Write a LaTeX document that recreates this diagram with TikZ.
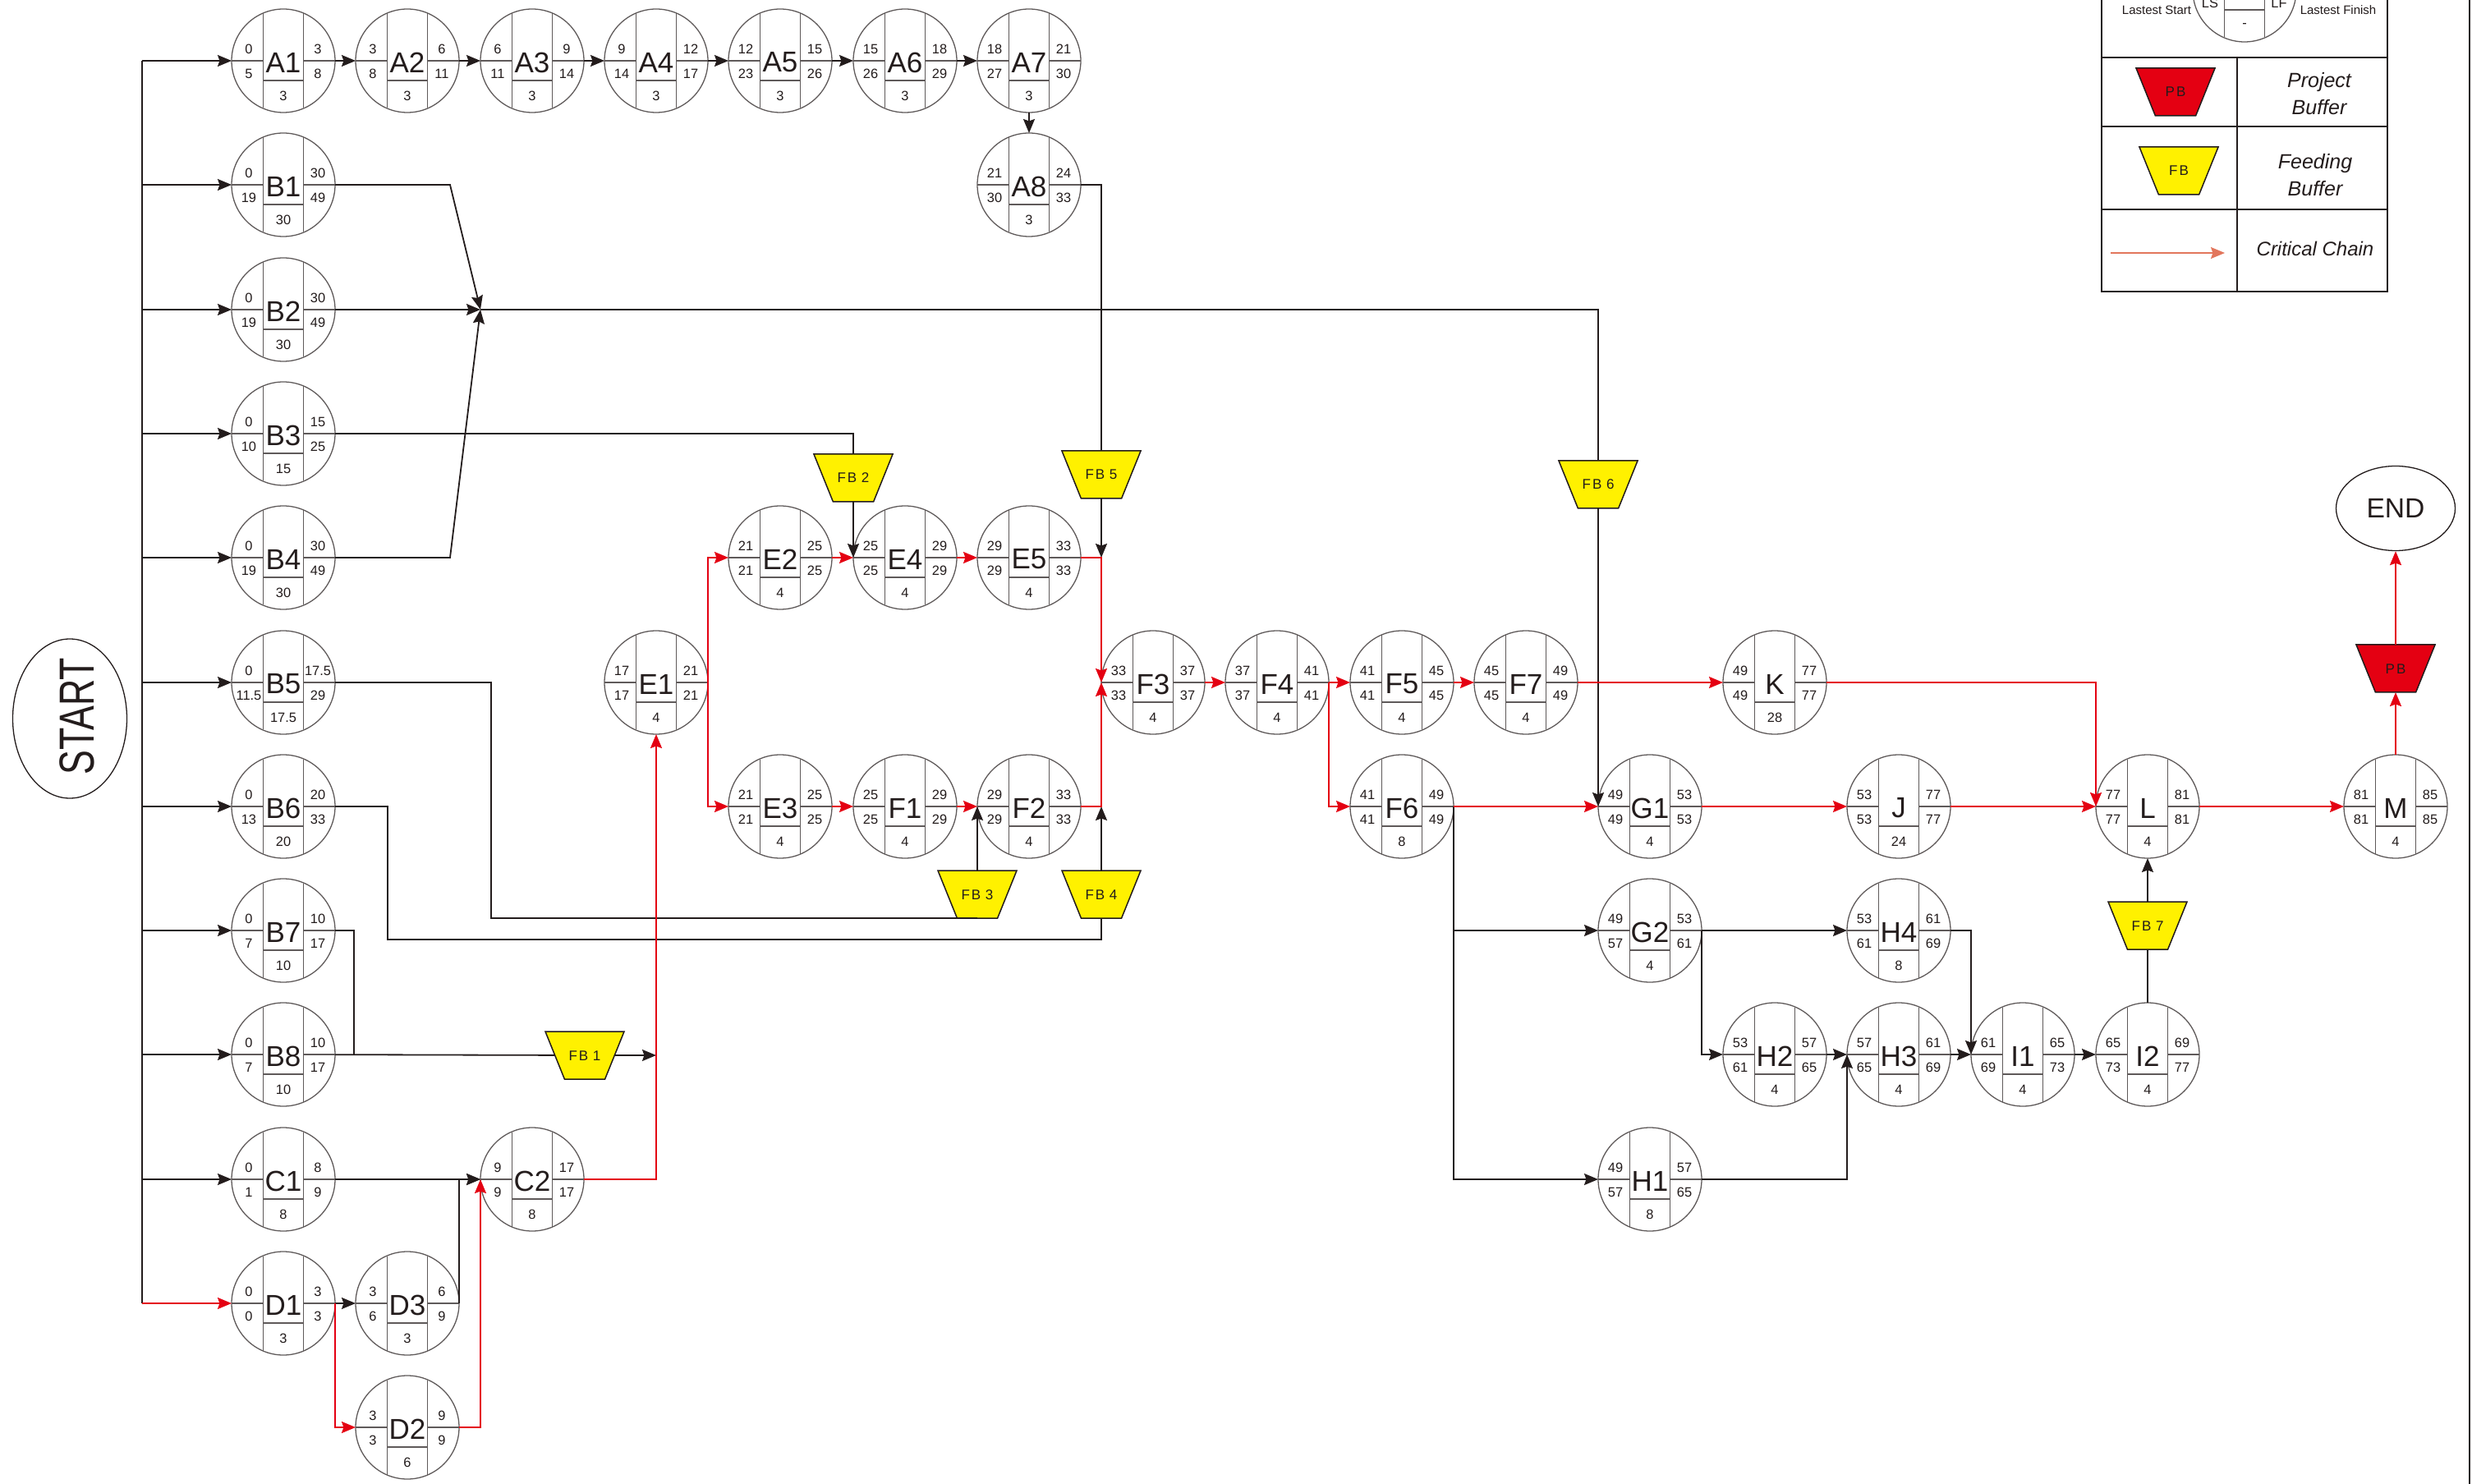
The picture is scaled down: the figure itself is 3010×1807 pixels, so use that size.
\documentclass[tikz,border=0pt]{standalone}
\usepackage{fontspec}
\setmainfont{Liberation Sans}
\newfontfamily\buffont[LetterSpace=12]{Liberation Sans}
\usetikzlibrary{arrows.meta,shapes.geometric,calc}

\definecolor{critred}{RGB}{228,0,18}
\definecolor{bufyellow}{RGB}{255,241,0}
\definecolor{ringgray}{RGB}{95,90,90}
\definecolor{linedark}{RGB}{35,28,28}
\definecolor{legsalmon}{RGB}{226,118,92}

\tikzset{
  act/.style={circle, draw=ringgray, line width=0.65pt, minimum size=63pt, inner sep=0pt, outer sep=0pt},
  actline/.style={draw=ringgray, line width=0.65pt},
  actname/.style={font=\fontsize{17.5}{18}\selectfont, text=linedark, inner sep=0pt},
  actnum/.style={font=\fontsize{8.2}{9}\selectfont, text=linedark, inner sep=0pt},
  buffer/.style={trapezium, trapezium left angle=68, trapezium right angle=68,
    shape border rotate=180, text width=24.6pt, align=center, text height=6pt, text depth=0pt,
    inner xsep=0pt, inner ysep=11.5pt, outer sep=0pt,
    draw=linedark, line width=0.75pt, text=linedark, font=\buffont\fontsize{8.5}{9}\selectfont},
  feed/.style={buffer, fill=bufyellow},
  proj/.style={buffer, fill=critred},
  link/.style={draw=linedark, line width=0.9pt},
  arr/.style={link, -{Stealth[length=8.5pt,width=7pt,inset=1.2pt]}},
  crit/.style={draw=critred, line width=0.95pt, -{Stealth[length=8.5pt,width=7pt,inset=1.2pt]}},
  legline/.style={draw=linedark, line width=0.85pt},
  legtext/.style={font=\itshape\fontsize{12.5}{16.5}\selectfont, text=linedark, align=center, inner sep=0pt},
}

\begin{document}
\begin{tikzpicture}[x=0.5pt,y=-0.5pt]
\useasboundingbox (0,0) rectangle (3010,1807);

% activities: name/column/row/ES/LS/EF/LF/duration
\foreach \nm/\col/\row/\es/\ls/\ef/\lf/\dur in {
  A1/1/1/0/5/3/8/3, A2/2/1/3/8/6/11/3, A3/3/1/6/11/9/14/3, A4/4/1/9/14/12/17/3,
  A5/5/1/12/23/15/26/3, A6/6/1/15/26/18/29/3, A7/7/1/18/27/21/30/3, A8/7/2/21/30/24/33/3,
  B1/1/2/0/19/30/49/30, B2/1/3/0/19/30/49/30, B3/1/4/0/10/15/25/15, B4/1/5/0/19/30/49/30,
  B5/1/6/0/11.5/17.5/29/17.5, B6/1/7/0/13/20/33/20, B7/1/8/0/7/10/17/10, B8/1/9/0/7/10/17/10,
  C1/1/10/0/1/8/9/8, D1/1/11/0/0/3/3/3, D3/2/11/3/6/6/9/3, D2/2/12/3/3/9/9/6,
  C2/3/10/9/9/17/17/8, E1/4/6/17/17/21/21/4, E2/5/5/21/21/25/25/4, E4/6/5/25/25/29/29/4,
  E5/7/5/29/29/33/33/4, E3/5/7/21/21/25/25/4, F1/6/7/25/25/29/29/4, F2/7/7/29/29/33/33/4,
  F3/8/6/33/33/37/37/4, F4/9/6/37/37/41/41/4, F5/10/6/41/41/45/45/4, F7/11/6/45/45/49/49/4,
  K/13/6/49/49/77/77/28, F6/10/7/41/41/49/49/8, G1/12/7/49/49/53/53/4, J/14/7/53/53/77/77/24,
  L/16/7/77/77/81/81/4, M/18/7/81/81/85/85/4, G2/12/8/49/57/53/61/4, H4/14/8/53/61/61/69/8,
  H2/13/9/53/61/57/65/4, H3/14/9/57/65/61/69/4, I1/15/9/61/69/65/73/4, I2/16/9/65/73/69/77/4,
  H1/12/10/49/57/57/65/8}{
  \node[act] (\nm) at ({round(345+151.3*(\col-1))},{round(74+151.3*(\row-1))}) {};
  \draw[actline] ($(\nm)+(-24.5,-57.5)$) -- ($(\nm)+(-24.5,57.5)$);
  \draw[actline] ($(\nm)+(24.5,-57.5)$) -- ($(\nm)+(24.5,57.5)$);
  \draw[actline] (\nm.west) -- ($(\nm)+(-24.5,0)$);
  \draw[actline] (\nm.east) -- ($(\nm)+(24.5,0)$);
  \draw[actline] ($(\nm)+(-24.5,24)$) -- ($(\nm)+(24.5,24)$);
  \node[actname] (\nm-name) at ($(\nm)+(0,2)$) {\nm};
  \node[actnum] (\nm-es) at ($(\nm)+(-42,-14)$) {\es};
  \node[actnum] (\nm-ls) at ($(\nm)+(-42,16)$) {\ls};
  \node[actnum] (\nm-ef) at ($(\nm)+(42,-14)$) {\ef};
  \node[actnum] (\nm-lf) at ($(\nm)+(42,16)$) {\lf};
  \node[actnum] (\nm-dur) at ($(\nm)+(0,43)$) {\dur};
}

% start and end
\node[draw=linedark, line width=0.65pt, ellipse, minimum width=69.5pt, minimum height=97pt, inner sep=0pt] (START) at (85,875) {};
\node[rotate=90, inner sep=0pt, text=linedark, font=\fontsize{30}{30}\selectfont] (starttext) at (94,872) {\scalebox{0.745}[1]{START}};
\node[draw=linedark, line width=0.65pt, ellipse, minimum width=72.5pt, minimum height=51.5pt, inner sep=0pt,
  text=linedark, font=\fontsize{16.8}{18}\selectfont] (END) at (M |- 0,619) {END};

% buffers
\node[feed] (FB1) at (712,1285) {FB 1};
\node[feed] (FB2) at (E4.west |- 0,582) {FB 2};
\node[feed] (FB3) at (F2.west |- 0,1089) {FB 3};
\node[feed] (FB4) at (F3.west |- 0,1089) {FB 4};
\node[feed] (FB5) at (F3.west |- 0,578) {FB 5};
\node[feed] (FB6) at (G1.west |- 0,590) {FB 6};
\node[feed] (FB7) at (L |- 0,1127) {FB 7};
\node[proj] (PB) at (M |- 0,814) {PB};

% start bus
\coordinate (bustop) at (173,74);
\coordinate (busbot) at (173,1587);
\draw[link] (bustop) -- (busbot);
\foreach \nm in {A1,B1,B2,B3,B4,B5,B6,B7,B8,C1}
  \draw[arr] (bustop |- \nm.west) -- (\nm.west);

% non-critical links
\foreach \a/\b in {A1/A2,A2/A3,A3/A4,A4/A5,A5/A6,A6/A7,A7/A8,D1/D3,C1/C2,G2/H4,H2/H3,H3/I1,I1/I2}
  \draw[arr] (\a) -- (\b);
\draw[link] (A8.east) -| (FB5.north);
\draw[arr] (FB5.south) -- (FB5.south |- E5.east);
\draw[link] (B3.east) -| (FB2.north);
\draw[arr] (FB2.south) -- (E4.west);
\coordinate (merge) at (B2.east -| 585,0);
\draw[arr] (B1.east) -- ++(140,0) -- (merge);
\draw[arr] (B4.east) -- ++(140,0) -- (merge);
\draw[arr] (B2.east) -- (merge);
\draw[link] (merge) -| (FB6.north);
\draw[arr] (FB6.south) -- (G1.west);
\coordinate (b5bend) at (FB3.south -| 598,0);
\draw[link] (B5.east) -| (b5bend) -- (FB3.south);
\draw[arr] (FB3.north) -- (F2.west);
\coordinate (b6bend) at (472,1144);
\draw[link] (B6.east) -| (b6bend) -| (FB4.south);
\draw[arr] (FB4.north) -- (FB4.north |- F2.east);
\coordinate (b7bend) at (B8.east -| 431,0);
\draw[link] (B7.east) -| (b7bend);
\draw[link] (B8) -- (FB1);
\draw[arr] (FB1.east) -- (FB1.east -| E1.south);
\draw[arr] (D3.east) |- (C2.west);
\draw[arr] (F6.east) |- (G2.west);
\draw[arr] (F6.east) |- (H1.west);
\draw[arr] (G2.east) |- (H2.west);
\draw[arr] (H1.east) -| (H3.west);
\draw[arr] (H4.east) -| (I1.west);
\draw[link] (I2.north) -- (FB7.south);
\draw[arr] (FB7.north) -- (L.south);

% critical chain
\draw[crit] (bustop |- D1.west) -- (D1.west);
\draw[crit] (D1.east) |- (D2.west);
\draw[crit] (D2.east) -| (C2.west);
\draw[crit] (C2.east) -| (E1.south);
\draw[crit] (E1.east) |- (E2.west);
\draw[crit] (E1.east) |- (E3.west);
\foreach \a/\b in {E2/E4,E4/E5,E3/F1,F1/F2,F3/F4,F4/F5,F5/F7,F7/K,F6/G1,G1/J,J/L,L/M}
  \draw[crit] (\a) -- (\b);
\draw[crit] (E5.east) -| (F3.west);
\draw[crit] (F2.east) -| (F3.west);
\draw[crit] (F4.east) |- (F6.west);
\draw[crit] (K.east) -| (L.west);
\draw[crit] (M.north) -- (PB.south);
\draw[crit] (PB.north) -- (END.south);

% legend
\draw[legline] (2559,-10) rectangle (2907,355);
\draw[legline] (2559,70) -- (2907,70);
\draw[legline] (2559,154) -- (2907,154);
\draw[legline] (2559,255) -- (2907,255);
\draw[legline] (2724,70) -- (2724,355);
\node[act] (legnode) at (2733,-12) {};
\draw[actline] ($(legnode)+(-24.5,-57.5)$) -- ($(legnode)+(-24.5,57.5)$);
\draw[actline] ($(legnode)+(24.5,-57.5)$) -- ($(legnode)+(24.5,57.5)$);
\draw[actline] ($(legnode)+(-24.5,24)$) -- ($(legnode)+(24.5,24)$);
\node[actnum] (leg-ls) at ($(legnode)+(-42,16)$) {LS};
\node[actnum] (leg-lf) at ($(legnode)+(42,16)$) {LF};
\node[actnum] (leg-dur) at ($(legnode)+(0,43)$) {-};
\node[inner sep=0pt, text=linedark, font=\fontsize{7.5}{8}\selectfont] (leg-lstext) at (2626,12) {Lastest Start};
\node[inner sep=0pt, text=linedark, font=\fontsize{7.5}{8}\selectfont] (leg-lftext) at (2847,12) {Lastest Finish};
\node[proj] (legpb) at (2649,112) {PB};
\node[legtext] (legpbtext) at (2824,114) {Project\\Buffer};
\node[feed] (legfb) at (2653,208) {FB};
\node[legtext] (legfbtext) at (2819,213) {Feeding\\Buffer};
\coordinate (legarrA) at (2570,308);
\coordinate (legarrB) at (2709,308);
\draw[draw=legsalmon, line width=0.8pt, -{Stealth[length=8.5pt,width=7pt,inset=1.2pt]}] (legarrA) -- (legarrB);
\node[legtext, font=\itshape\fontsize{12}{14}\selectfont] (legcctext) at (2819,303) {Critical Chain};

% right frame
\draw[draw=linedark, line width=1pt] (3007,0) -- (3007,1807);
\end{tikzpicture}
\end{document}
